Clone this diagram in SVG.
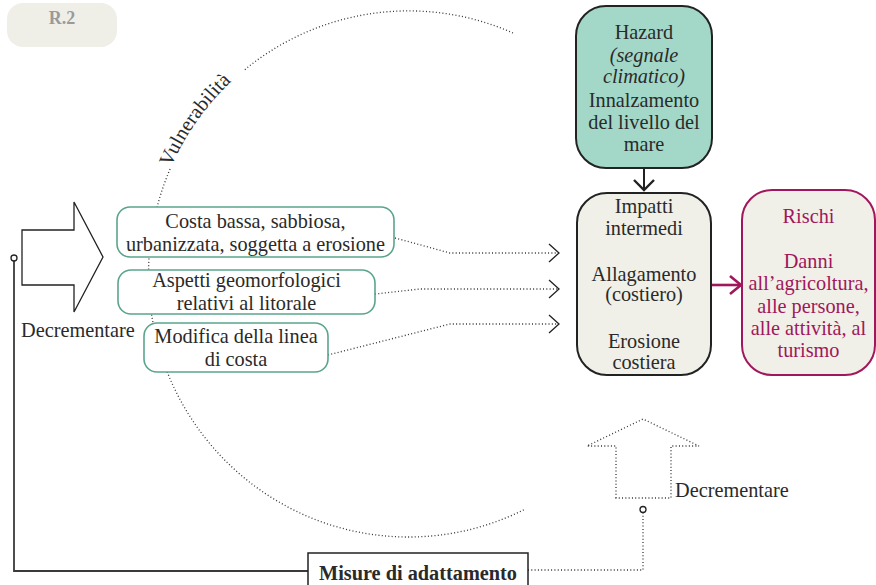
<svg xmlns="http://www.w3.org/2000/svg" width="876" height="585" viewBox="0 0 876 585">
  <style>
    text { font-family: "Liberation Serif", "DejaVu Serif", serif; font-size: 20.3px; fill: #2a2a2a; }
    .c { text-anchor: middle; }
    .it { font-style: italic; }
    .risk { fill: #a0175b; }
    .dot { fill: none; stroke: #333; stroke-width: 1.3; stroke-dasharray: 1 2.3; }
    .green { fill: #ffffff; stroke: #5aa58b; stroke-width: 1.6; }
    .dark { stroke: #222; stroke-width: 2; }
  </style>
  <defs>
    <marker id="chev" markerUnits="userSpaceOnUse" markerWidth="14" markerHeight="20" refX="12" refY="10" orient="auto" overflow="visible">
      <path d="M2,1 L12,10 L2,19" fill="none" stroke="#222" stroke-width="1.3"/>
    </marker>
    <marker id="chevBold" markerUnits="userSpaceOnUse" markerWidth="14" markerHeight="22" refX="12" refY="11" orient="auto" overflow="visible">
      <path d="M2,1 L12,11 L2,21" fill="none" stroke="#222" stroke-width="2.4"/>
    </marker>
    <marker id="chevRisk" markerUnits="userSpaceOnUse" markerWidth="14" markerHeight="20" refX="12" refY="9" orient="auto" overflow="visible">
      <path d="M1,0 L12,9 L1,18" fill="none" stroke="#a0175b" stroke-width="2.6"/>
    </marker>
    <path id="vulnPath" d="M164.2,184.05 A260,263 0 0 1 248.4,66.8"/>
  </defs>

  <!-- badge -->
  <g id="badge">
    <rect x="7" y="3" width="110" height="44" rx="16" fill="#efefe7"/>
    <text x="62" y="24" class="c" style="font-weight:bold;font-size:18px;fill:#9a9a9a">R.2</text>
  </g>

  <!-- vulnerability arc -->
  <g id="vulnerability">
    <path class="dot" d="M513,33 A260,263 0 0 0 243.1,71.1"/>
    <path class="dot" d="M170.1,169.1 A260,263 0 0 0 524.5,509.4"/>
    <text><textPath href="#vulnPath" startOffset="18">Vulnerabilità</textPath></text>
  </g>

  <!-- connectors -->
  <g id="connectors">
    <path class="dot" d="M395,238 L450,253 L559,253" marker-end="url(#chev)"/>
    <path class="dot" d="M375,294 L420,289 L559,289" marker-end="url(#chev)"/>
    <path class="dot" d="M328,355 L450,324 L559,324" marker-end="url(#chev)"/>
    <path d="M644,168 L644,190" class="dark" fill="none" marker-end="url(#chevBold)"/>
    <path d="M711,285 L741,285" fill="none" stroke="#a0175b" stroke-width="2.6" marker-end="url(#chevRisk)"/>
    <!-- feedback from adaptation measures -->
    <path d="M14,261 L14,571 L308,571" fill="none" stroke="#3a3a3a" stroke-width="1.8"/>
    <path class="dot" d="M528,570 L643,570 L643,513"/>
  </g>

  <!-- left decrement arrow -->
  <g id="decrement-left">
    <polygon points="22,230 74,230 74,202 103,257 74,312 74,285 22,285" fill="#fff" stroke="#222" stroke-width="1.3"/>
    <circle cx="14" cy="258" r="3" fill="#fff" stroke="#222" stroke-width="1.3"/>
    <text x="21" y="337">Decrementare</text>
  </g>

  <!-- right decrement arrow -->
  <g id="decrement-right">
    <polygon class="dot" points="616,498 616,446 587,446 643,419 699,446 671,446 671,498"/>
    <circle cx="643" cy="509.5" r="3" fill="#fff" stroke="#222" stroke-width="1.3"/>
    <text x="675" y="497">Decrementare</text>
  </g>

  <!-- vulnerability factors -->
  <g id="costa-bassa">
    <rect class="green" x="117" y="207" width="277" height="50" rx="13"/>
    <text x="255.5" y="228" class="c">Costa bassa, sabbiosa,</text>
    <text x="255.5" y="251" class="c">urbanizzata, soggetta a erosione</text>
  </g>
  <g id="aspetti">
    <rect class="green" x="118" y="270" width="257" height="44" rx="13"/>
    <text x="246.5" y="287" class="c">Aspetti geomorfologici</text>
    <text x="246.5" y="310" class="c">relativi al litorale</text>
  </g>
  <g id="modifica">
    <rect class="green" x="144" y="323" width="184" height="49" rx="13"/>
    <text x="236" y="343" class="c">Modifica della linea</text>
    <text x="236" y="366" class="c">di costa</text>
  </g>

  <!-- hazard -->
  <g id="hazard">
    <rect x="576" y="6" width="136" height="162" rx="30" fill="#a3d8c8" stroke="#222" stroke-width="2"/>
    <text x="644" y="39" class="c">Hazard</text>
    <text x="644" y="62" class="c it">(segnale</text>
    <text x="644" y="83" class="c it">climatico)</text>
    <text x="644" y="107" class="c">Innalzamento</text>
    <text x="644" y="129" class="c">del livello del</text>
    <text x="644" y="151" class="c">mare</text>
  </g>

  <!-- intermediate impacts -->
  <g id="impatti">
    <rect x="577" y="193" width="134" height="182" rx="30" fill="#f0f0e8" stroke="#222" stroke-width="2"/>
    <text x="644" y="213" class="c">Impatti</text>
    <text x="644" y="235" class="c">intermedi</text>
    <text x="644" y="281" class="c">Allagamento</text>
    <text x="644" y="301" class="c">(costiero)</text>
    <text x="644" y="348" class="c">Erosione</text>
    <text x="644" y="369" class="c">costiera</text>
  </g>

  <!-- risks -->
  <g id="rischi">
    <rect x="742" y="190" width="133" height="185" rx="30" fill="#f0f0e8" stroke="#a0175b" stroke-width="2"/>
    <text x="808.5" y="223" class="c risk">Rischi</text>
    <text x="808.5" y="268" class="c risk">Danni</text>
    <text x="808.5" y="290" class="c risk">all’agricoltura,</text>
    <text x="808.5" y="313" class="c risk">alle persone,</text>
    <text x="808.5" y="335" class="c risk">alle attività, al</text>
    <text x="808.5" y="357" class="c risk">turismo</text>
  </g>

  <!-- adaptation measures -->
  <g id="misure">
    <rect x="308" y="553" width="220" height="40" fill="#fff" stroke="#222" stroke-width="1.5"/>
    <text x="418" y="580" class="c" style="font-weight:bold">Misure di adattamento</text>
  </g>
</svg>
